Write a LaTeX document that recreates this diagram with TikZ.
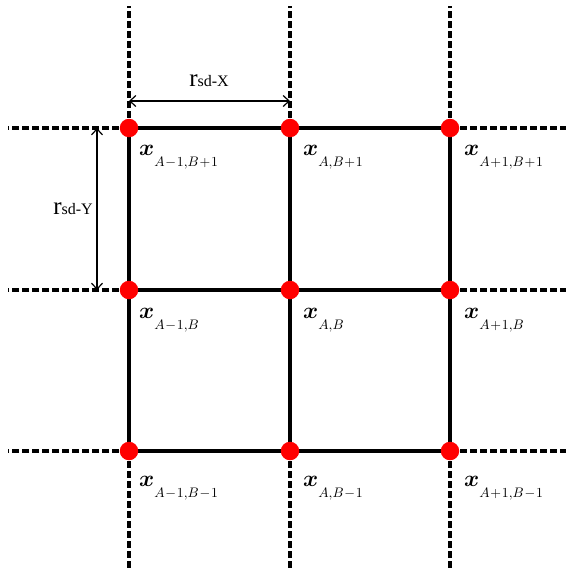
\documentclass[tikz,border=0pt]{standalone}
\usepackage{fontspec}
\usepackage{bm}
\usetikzlibrary{arrows.meta}
\newfontfamily\tms{Liberation Serif}
\newcommand{\gridlab}[1]{\scalebox{2.3}{$\bm{x}$}\raisebox{-11pt}{\scalebox{1.38}{$#1$}}}
\newcommand{\rlab}[1]{{\tms\fontsize{25}{25}\selectfont r\fontsize{16}{16}\selectfont sd-#1}}
\begin{document}
\begin{tikzpicture}[x=1pt,y=-1pt,
  gridline/.style={line width=3.6pt},
  dashline/.style={line width=3.6pt,dash pattern=on 7pt off 3pt},
  dot/.style={circle,fill=red,inner sep=0pt,minimum size=18.5pt},
  lab/.style={anchor=base west,inner sep=0pt},
  dim/.style={line width=1.2pt,{Straight Barb[length=6pt,width=11pt]}-{Straight Barb[length=6pt,width=11pt]}}]
\useasboundingbox (0,0) rectangle (569,571);
% grid points
\foreach \i/\x in {1/129,2/290,3/450}{
  \foreach \j/\y in {1/128,2/290,3/451}{
    \coordinate (p\i\j) at (\x,\y);
  }
}
% dashed end coordinates
\coordinate (t1) at (129,6);   \coordinate (t2) at (290,6);   \coordinate (t3) at (450,6);
\coordinate (b1) at (129,568); \coordinate (b2) at (290,568); \coordinate (b3) at (450,568);
\coordinate (l1) at (8,128);   \coordinate (l2) at (8,290);   \coordinate (l3) at (8,451);
\coordinate (r1) at (566,128); \coordinate (r2) at (566,290); \coordinate (r3) at (566,451);
% dashed extensions
\foreach \k in {1,2,3}{
  \draw[dashline] (p\k1) -- (t\k);
  \draw[dashline] (p\k3) -- (b\k);
  \draw[dashline] (p1\k) -- (l\k);
  \draw[dashline] (p3\k) -- (r\k);
}
% solid grid
\foreach \k in {1,2,3}{
  \draw[gridline] (p\k1) -- (p\k3);
  \draw[gridline] (p1\k) -- (p3\k);
}
% dots
\foreach \i in {1,2,3}{
  \foreach \j in {1,2,3}{
    \node[dot] (d\i\j) at (p\i\j) {};
  }
}
% labels
\node[lab] (x11) at (139,155) {\gridlab{A\!-\!1{,}B\!+\!1}};
\node[lab] (x21) at (303,155) {\gridlab{A{,}B\!+\!1}};
\node[lab] (x31) at (464,155) {\gridlab{A\!+\!1{,}B\!+\!1}};
\node[lab] (x12) at (139,318) {\gridlab{A\!-\!1{,}B}};
\node[lab] (x22) at (303,318) {\gridlab{A{,}B}};
\node[lab] (x32) at (464,318) {\gridlab{A\!+\!1{,}B}};
\node[lab] (x13) at (139,486) {\gridlab{A\!-\!1{,}B\!-\!1}};
\node[lab] (x23) at (303,486) {\gridlab{A{,}B\!-\!1}};
\node[lab] (x33) at (464,486) {\gridlab{A\!+\!1{,}B\!-\!1}};
% dimension arrows
\coordinate (ax1) at (129,101); \coordinate (ax2) at (290,101);
\draw[dim] (ax1) -- (ax2);
\node[anchor=base,inner sep=0pt] (rx) at (209,86) {\rlab{X}};
\coordinate (ay1) at (97,128); \coordinate (ay2) at (97,290);
\draw[dim] (ay1) -- (ay2);
\node[anchor=base east,inner sep=0pt] (ry) at (93,214) {\rlab{Y}};
\end{tikzpicture}
\end{document}
